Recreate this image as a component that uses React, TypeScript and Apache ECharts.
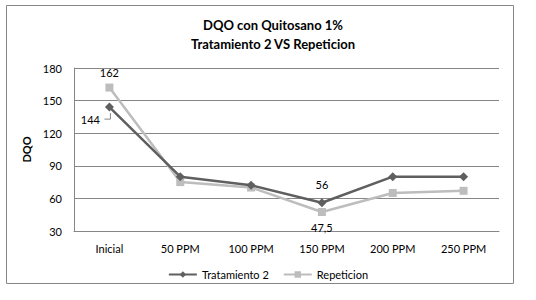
import React, { useEffect, useRef } from "react";
import * as echarts from "echarts";

const categories = ["Inicial", "50 PPM", "100 PPM", "150 PPM", "200 PPM", "250 PPM"];
const tratamiento = [144, 80, 72, 56, 80, 80];
const repeticion = [162, 75, 70, 47.5, 65, 67];
const yTicks = { min: 30, max: 180, interval: 30 };

const FONT = "Lato, 'Open Sans', sans-serif";
const fmt = (v: number) => String(v).replace(".", ",");

export default function App() {
  const ref = useRef<HTMLDivElement>(null);
  useEffect(() => {
    const chart = echarts.init(ref.current!, null, { renderer: "svg" });
    const tratData = tratamiento.map((v, i) => {
      if (i === 0)
        return { value: v, label: { show: true, position: "left", distance: 5, offset: [0, 12] } };
      if (i === 3) return { value: v, label: { show: true, position: "top", distance: 8 } };
      return v;
    });
    const repData = repeticion.map((v, i) => {
      if (i === 0) return { value: v, label: { show: true, position: "top", distance: 6 } };
      if (i === 3) return { value: v, label: { show: true, position: "bottom", distance: 6 } };
      return v;
    });
    chart.setOption({
      animation: false,
      backgroundColor: "#fff",
      textStyle: { fontFamily: FONT },
      title: {
        text: "DQO con Quitosano 1%\nTratamiento 2 VS Repeticion",
        left: 268,
        textAlign: "center",
        top: 10,
        textStyle: { fontFamily: FONT, fontSize: 13, fontWeight: "bold", color: "#000", lineHeight: 19 },
      },
      graphic: [
        {
          type: "rect",
          shape: { x: 6.5, y: 5.5, width: 507, height: 278 },
          style: { fill: "none", stroke: "#868686", lineWidth: 1 },
          silent: true,
        },
      ],
      grid: { left: 74, right: 37, top: 68, bottom: 69 },
      legend: {
        bottom: 15,
        left: "center",
        itemWidth: 28,
        itemHeight: 8,
        itemGap: 14,
        textStyle: { fontFamily: FONT, fontSize: 11, color: "#000" },
        data: ["Tratamiento 2", "Repeticion"],
      },
      xAxis: {
        type: "category",
        data: categories,
        boundaryGap: true,
        axisLine: { show: true, lineStyle: { color: "#868686" } },
        axisTick: { show: false },
        axisLabel: { fontFamily: FONT, fontSize: 11, color: "#000", margin: 12 },
      },
      yAxis: {
        type: "value",
        min: yTicks.min,
        max: yTicks.max,
        interval: yTicks.interval,
        name: "DQO",
        nameLocation: "middle",
        nameGap: 34,
        nameTextStyle: { fontFamily: FONT, fontSize: 11, fontWeight: "bold", color: "#000" },
        axisLine: { show: true, lineStyle: { color: "#868686" } },
        axisTick: { show: false },
        splitLine: { lineStyle: { color: "#868686" } },
        axisLabel: { fontFamily: FONT, fontSize: 11, color: "#000", margin: 12 },
      },
      series: [
        {
          name: "Tratamiento 2",
          type: "line",
          data: tratData,
          symbol: "diamond",
          symbolSize: 9,
          lineStyle: { color: "#5f5f5f", width: 2.5 },
          itemStyle: { color: "#5f5f5f" },
          label: { show: false, formatter: (p: any) => fmt(p.value), fontFamily: FONT, fontSize: 11, color: "#000" },
          z: 3,
        },
        {
          name: "Repeticion",
          type: "line",
          data: repData,
          symbol: "rect",
          symbolSize: 8,
          lineStyle: { color: "#bdbdbd", width: 2.5 },
          itemStyle: { color: "#bdbdbd" },
          label: { show: false, formatter: (p: any) => fmt(p.value), fontFamily: FONT, fontSize: 11, color: "#000" },
          z: 2,
        },
      ],
    });
    // leader line for the first Tratamiento label, placed from the data point
    const p = chart.convertToPixel({ seriesIndex: 0 }, [0, tratamiento[0]]) as number[];
    chart.setOption({
      graphic: [
        {
          type: "rect",
          shape: { x: 6.5, y: 5.5, width: 507, height: 278 },
          style: { fill: "none", stroke: "#868686", lineWidth: 1 },
          silent: true,
        },
        {
          type: "polyline",
          shape: { points: [[p[0] - 5, p[1] + 12], [p[0] + 1, p[1] + 12], [p[0] + 1, p[1] + 6]] },
          style: { fill: "none", stroke: "#868686", lineWidth: 1 },
          silent: true,
          z: 10,
        },
      ],
    });
    return () => chart.dispose();
  }, []);
  return (
    <div
      ref={ref}
      style={{ position: "absolute", left: 0, top: 0, width: 536, height: 300, background: "#fff" }}
    />
  );
}
